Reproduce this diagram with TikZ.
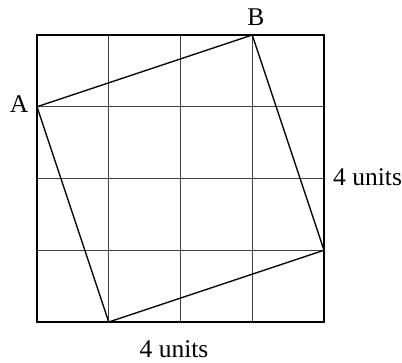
\documentclass[tikz,border=0pt]{standalone}
\usepackage{fontspec}
\setmainfont{Liberation Serif}
\begin{document}
\begin{tikzpicture}[x=1pt,y=-1pt,
  gridline/.style={line width=0.8pt, black!75},
  border/.style={line width=1.5pt, black},
  side/.style={line width=1.3pt, black, line join=round},
  lbl/.style={font=\fontsize{25.5}{28}\selectfont, inner sep=0pt}]
\useasboundingbox (0,0) rectangle (402,362);
\foreach \i in {1,2,3} {
  \draw[gridline] (37+71.75*\i,35) -- (37+71.75*\i,322);
  \draw[gridline] (37,35+71.75*\i) -- (324,35+71.75*\i);
}
\draw[border] (37,35) rectangle (324,322);
\coordinate (A) at (37,106.75);
\coordinate (B) at (252.25,35);
\coordinate (C) at (324,250.25);
\coordinate (D) at (108.75,322);
\draw[side] (A) -- (B) -- (C) -- (D) -- cycle;
\node[lbl, anchor=base] (la) at (19,112) {A};
\node[lbl, anchor=base] (lb) at (256,25) {B};
\node[lbl, anchor=base west] (lr) at (333,185) {4 units};
\node[lbl, anchor=base] (lbot) at (174,357) {4 units};
\end{tikzpicture}
\end{document}
